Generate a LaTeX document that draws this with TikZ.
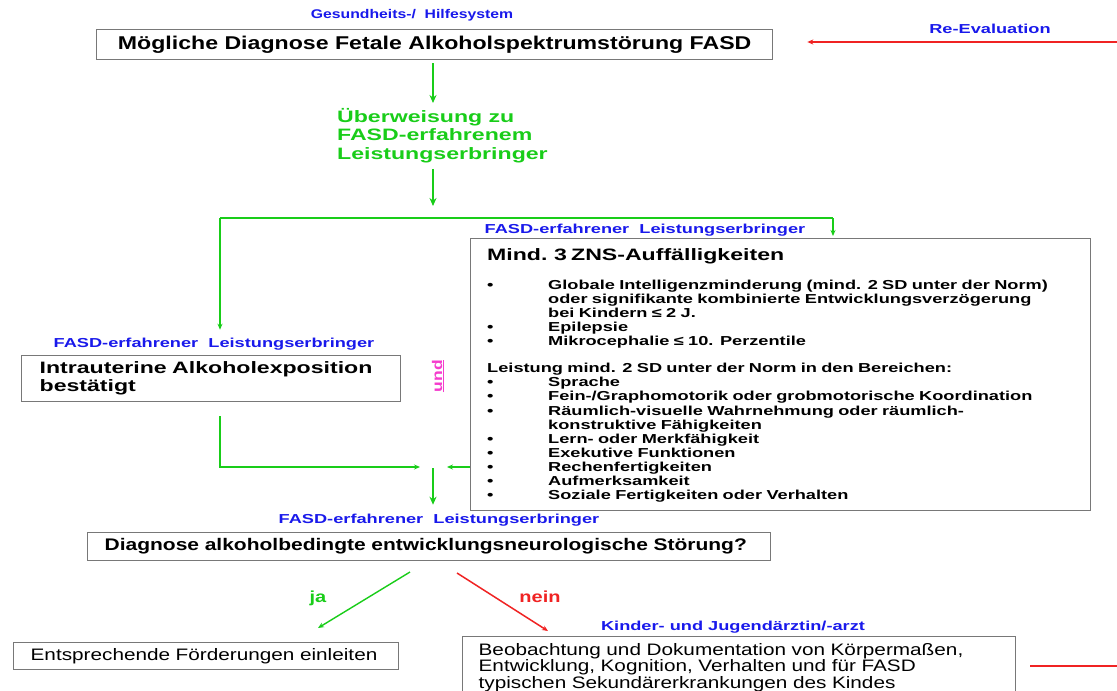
\documentclass[tikz,border=0pt]{standalone}
\usepackage{fontspec}
\setmainfont{Liberation Sans}[FakeStretch=1.25]
\newfontfamily\weitfont{Liberation Sans}[FakeStretch=1.4]
\usetikzlibrary{arrows.meta,positioning}
\definecolor{flow_green}{RGB}{25,205,25}
\definecolor{who_blue}{RGB}{25,25,235}
\definecolor{flow_red}{RGB}{240,35,35}
\definecolor{und_pink}{RGB}{245,60,205}
\definecolor{box_gray}{RGB}{120,120,120}

\newcommand{\znspunkt}{\par\hangindent=61pt\hangafter=1\noindent\makebox[61pt][l]{\textbullet}}

\begin{document}
\begin{tikzpicture}[x=1pt,y=-1pt,>={Stealth[length=6pt,width=5pt]}]
    \tikzstyle{box}=[draw=box_gray, line width=1.3pt, rectangle, anchor=north west, inner ysep=0pt, text=black]
    \tikzstyle{who}=[text=who_blue, font=\weitfont\bfseries\fontsize{13}{15}\selectfont, inner sep=0pt]
    \tikzstyle{flow}=[draw=flow_green, line width=1.6pt, ->]
    \tikzstyle{mainflow}=[draw=flow_green, line width=2.6pt, -{Stealth[length=8pt,width=7pt]}]
    \tikzstyle{back}=[draw=flow_red, line width=1.5pt]

    \useasboundingbox[fill=white] (0,0) rectangle (1117,691);

    \node[who, font=\bfseries\fontsize{12.6}{15}\selectfont] (who_top) at (412,15) {Gesundheits-/\ \ Hilfesystem};
    \node[box, minimum width=676pt, minimum height=30pt, inner xsep=0pt, font=\bfseries\fontsize{18.5}{20}\selectfont] (verdacht) at (96,29) {Mögliche Diagnose Fetale Alkoholspektrumstörung FASD};
    \node[who] (who_re) at (990,29) {Re-Evaluation};
    \node[anchor=north west, inner sep=0pt, align=left, text=flow_green, font=\weitfont\bfseries\fontsize{16.5}{18.5}\selectfont] (ueberw) at (337,108) {Überweisung zu\\FASD-erfahrenem\\Leistungserbringer};

    \node[who] (who_zns) at (645,230) {FASD-erfahrener\ \ Leistungserbringer};
    \node[box, minimum width=620pt, minimum height=272pt, inner xsep=0pt] (zns) at (470,238) {};
    \node[anchor=north west, inner sep=0pt, text width=600pt, font=\weitfont\bfseries\fontsize{13}{14.1}\selectfont] (zns_txt) at ([xshift=17pt,yshift=-10pt]zns.north west) {%
      {\fontsize{16.5}{18}\selectfont Mind. 3 ZNS-Auffälligkeiten}\par\vspace{15pt}
      \znspunkt Globale Intelligenzminderung (mind. 2 SD unter der Norm)\newline oder signifikante kombinierte Entwicklungsverzögerung\newline bei Kindern ≤ 2 J.
      \znspunkt Epilepsie
      \znspunkt Mikrocephalie ≤ 10. Perzentile
      \par\vspace{13pt}\noindent Leistung mind. 2 SD unter der Norm in den Bereichen:
      \znspunkt Sprache
      \znspunkt Fein-/Graphomotorik oder grobmotorische Koordination
      \znspunkt Räumlich-visuelle Wahrnehmung oder räumlich-\newline konstruktive Fähigkeiten
      \znspunkt Lern- oder Merkfähigkeit
      \znspunkt Exekutive Funktionen
      \znspunkt Rechenfertigkeiten
      \znspunkt Aufmerksamkeit
      \znspunkt Soziale Fertigkeiten oder Verhalten\par};

    \node[who] (who_expo) at (214,344) {FASD-erfahrener\ \ Leistungserbringer};
    \node[box, minimum width=379pt, minimum height=46pt, inner xsep=18pt, text width=343pt, align=left, font=\weitfont\bfseries\fontsize{16.5}{18}\selectfont] (expo) at (21,355) {Intrauterine Alkoholexposition\\bestätigt};
    \node[rotate=90, inner sep=0pt, text=und_pink, font=\bfseries\fontsize{14}{16}\selectfont] (und) at (438,376) {\underline{und}};

    \node[who] (who_diag) at (439,520) {FASD-erfahrener\ \ Leistungserbringer};
    \node[box, minimum width=683pt, minimum height=28pt, inner xsep=17pt, text width=649pt, align=left, font=\bfseries\fontsize{16.8}{18}\selectfont] (diag) at (87,532) {Diagnose alkoholbedingte entwicklungsneurologische Störung?};

    \node[text=flow_green, font=\bfseries\fontsize{16}{18}\selectfont] (ja) at (318,598) {ja};
    \node[text=flow_red, font=\bfseries\fontsize{16}{18}\selectfont] (nein) at (540,597) {nein};

    \node[box, minimum width=385pt, minimum height=27pt, inner xsep=17pt, text width=351pt, align=left, font=\fontsize{16.6}{17}\selectfont] (foerder) at (13,642) {Entsprechende Förderungen einleiten};
    \node[who] (who_kind) at (733,627) {Kinder- und Jugendärztin/-arzt};
    \node[box, minimum width=553pt, minimum height=62pt, inner xsep=16pt, text width=521pt, align=left, font=\fontsize{16.6}{16.8}\selectfont] (beob) at (462,636) {Beobachtung und Dokumentation von Körpermaßen,\\Entwicklung, Kognition, Verhalten und für FASD\\typischen Sekundärerkrankungen des Kindes};

    % Verzweigungen
    \coordinate (mitte) at (433,0);
    \coordinate (gabel_l) at (220,218);
    \coordinate (gabel_r) at (833,218);
    \coordinate (treff) at (433,467);
    \coordinate (ja_start) at (410,572);
    \coordinate (ja_end) at (318,628);
    \coordinate (nein_start) at (457,573);
    \coordinate (nein_end) at (548,631);
    \coordinate (re_oben) at (1117,42);
    \coordinate (re_unten) at (1117,666);
    \coordinate (re_ab) at (1030,666);

    \draw[mainflow] ([yshift=-3pt]verdacht.south -| mitte) -- ([yshift=5pt]ueberw.north -| mitte);
    \draw[mainflow] ([yshift=-6pt]ueberw.south -| mitte) -- ([yshift=12pt]gabel_l -| mitte);
    \draw[flow, -] (gabel_l) -- (gabel_r);
    \draw[flow] (gabel_l) -- ([yshift=8pt]who_expo.north -| gabel_l);
    \draw[flow] (gabel_r) -- ([yshift=2pt]zns.north -| gabel_r);
    \draw[flow] ([yshift=-14pt]expo.south -| gabel_l) |- ([xshift=-13pt]treff);
    \draw[flow] (zns.west |- treff) -- ([xshift=14pt]treff);
    \draw[mainflow] ([yshift=-1pt]treff) -- ([yshift=9pt]who_diag.north -| treff);
    \draw[flow, line width=1.4pt] (ja_start) -- (ja_end);
    \draw[back, ->] (nein_start) -- (nein_end);
    \draw[back, ->] (re_oben) -- ([xshift=34pt]verdacht.east |- re_oben);
    \draw[back] (re_ab) -- (re_unten);
\end{tikzpicture}
\end{document}
